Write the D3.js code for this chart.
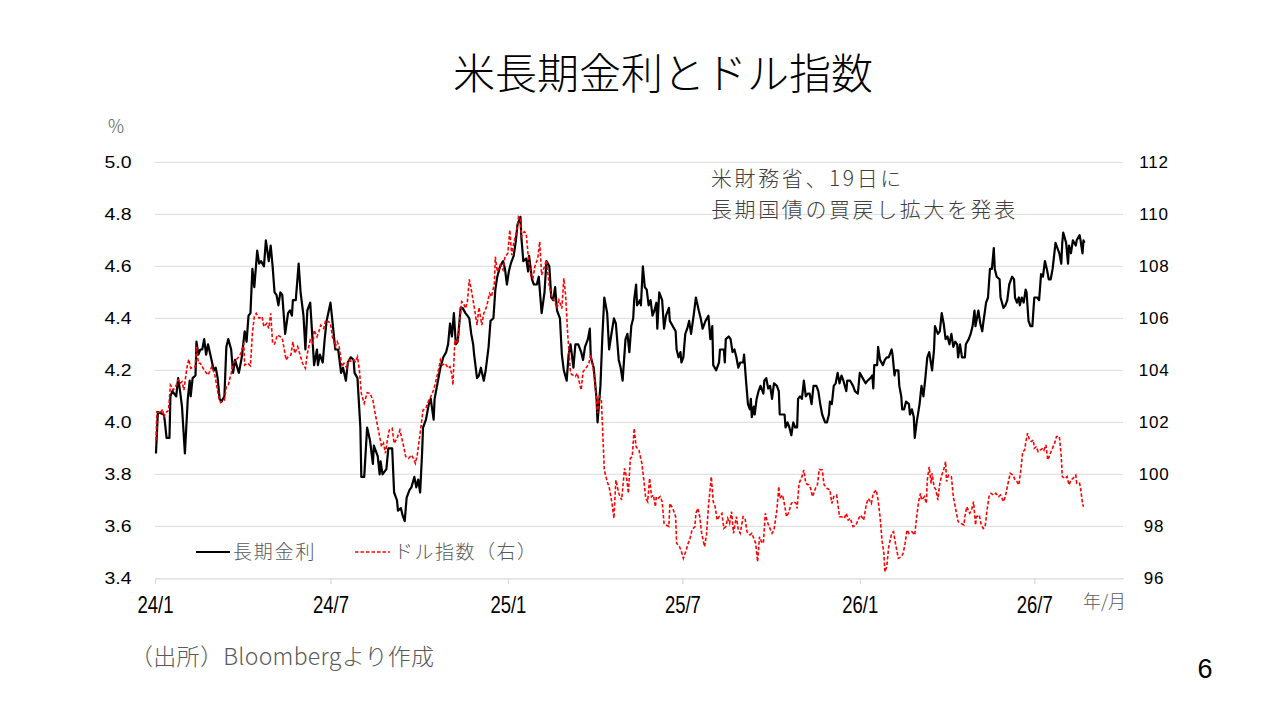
<!DOCTYPE html>
<html>
<head>
<meta charset="utf-8">
<script src="https://cdn.jsdelivr.net/npm/d3@7"></script>
<style>
  body { margin: 0; background: #fff; }
  text { font-family: "Noto Sans CJK JP", sans-serif; }
  .num { font-family: "Liberation Sans", Arial, sans-serif; }
</style>
</head>
<body>
<div id="chart"></div>
<script>
// 長期金利 (%), left axis
const yieldSeries = [
["24-01-02",3.88],["24-01-04",4.04],["24-01-10",4.03],["24-01-11",4.01],["24-01-13",3.94],["24-01-16",3.94],["24-01-17",4.10],["24-01-19",4.12],
["24-01-23",4.10],["24-01-25",4.17],["24-01-27",4.12],["24-01-29",4.06],["24-02-01",3.88],["24-02-04",4.09],["24-02-06",4.16],["24-02-07",4.10],
["24-02-09",4.17],["24-02-12",4.18],["24-02-13",4.31],["24-02-15",4.26],["24-02-17",4.28],["24-02-19",4.28],["24-02-21",4.32],["24-02-23",4.26],
["24-02-25",4.30],["24-02-28",4.25],["24-03-02",4.20],["24-03-04",4.21],["24-03-06",4.17],["24-03-08",4.09],["24-03-10",4.08],["24-03-13",4.10],
["24-03-15",4.29],["24-03-17",4.32],["24-03-20",4.28],["24-03-22",4.19],["24-03-24",4.24],["24-03-28",4.19],["24-03-29",4.21],["24-03-31",4.25],
["24-04-03",4.35],["24-04-05",4.31],["24-04-07",4.41],["24-04-09",4.42],["24-04-11",4.59],["24-04-13",4.52],["24-04-16",4.66],["24-04-18",4.61],
["24-04-20",4.62],["24-04-23",4.60],["24-04-25",4.70],["24-04-28",4.62],["24-04-30",4.68],["24-05-02",4.60],["24-05-04",4.50],["24-05-06",4.49],
["24-05-08",4.45],["24-05-10",4.50],["24-05-12",4.49],["24-05-15",4.34],["24-05-18",4.42],["24-05-20",4.43],["24-05-22",4.41],["24-05-23",4.47],
["24-05-26",4.47],["24-05-29",4.61],["24-05-31",4.50],["24-06-03",4.41],["24-06-05",4.28],["24-06-07",4.43],["24-06-10",4.46],["24-06-12",4.34],
["24-06-14",4.22],["24-06-17",4.28],["24-06-18",4.22],["24-06-20",4.26],["24-06-23",4.23],["24-06-25",4.32],["24-06-27",4.39],["24-07-01",4.46],
["24-07-03",4.39],["24-07-06",4.28],["24-07-09",4.28],["24-07-12",4.19],["24-07-14",4.21],["24-07-17",4.16],["24-07-19",4.23],["24-07-22",4.25],
["24-07-25",4.24],["24-07-26",4.19],["24-07-29",4.17],["24-08-01",3.98],["24-08-02",3.79],["24-08-05",3.79],["24-08-08",3.98],["24-08-11",3.93],
["24-08-14",3.84],["24-08-15",3.91],["24-08-19",3.87],["24-08-21",3.80],["24-08-22",3.85],["24-08-24",3.80],["24-08-28",3.82],["24-08-30",3.90],
["24-09-03",3.90],["24-09-05",3.73],["24-09-08",3.70],["24-09-09",3.66],["24-09-12",3.67],["24-09-14",3.64],["24-09-16",3.62],["24-09-18",3.71],
["24-09-21",3.74],["24-09-23",3.75],["24-09-26",3.79],["24-09-28",3.75],["24-09-30",3.78],["24-10-02",3.73],["24-10-04",3.88],["24-10-05",3.98],
["24-10-08",4.01],["24-10-11",4.07],["24-10-13",4.09],["24-10-16",4.01],["24-10-17",4.09],["24-10-20",4.15],["24-10-23",4.21],["24-10-26",4.25],
["24-10-29",4.27],["24-10-31",4.30],["24-11-02",4.38],["24-11-04",4.33],["24-11-06",4.42],["24-11-08",4.30],["24-11-10",4.31],["24-11-13",4.44],
["24-11-15",4.44],["24-11-18",4.42],["24-11-20",4.41],["24-11-22",4.40],["24-11-24",4.34],["24-11-26",4.30],["24-11-27",4.26],["24-11-30",4.17],
["24-12-02",4.18],["24-12-04",4.21],["24-12-07",4.16],["24-12-09",4.20],["24-12-12",4.29],["24-12-14",4.39],["24-12-17",4.40],["24-12-19",4.51],
["24-12-21",4.56],["24-12-24",4.60],["24-12-27",4.62],["24-12-29",4.59],["24-12-31",4.53],["25-01-02",4.58],["25-01-04",4.61],["25-01-07",4.64],
["25-01-09",4.69],["25-01-11",4.76],["25-01-14",4.79],["25-01-15",4.71],["25-01-17",4.62],["25-01-20",4.63],["25-01-22",4.58],["25-01-23",4.64],
["25-01-26",4.55],["25-01-28",4.53],["25-01-31",4.53],["25-02-02",4.56],["25-02-05",4.42],["25-02-08",4.50],["25-02-10",4.62],["25-02-13",4.60],
["25-02-15",4.48],["25-02-17",4.47],["25-02-19",4.52],["25-02-21",4.43],["25-02-24",4.40],["25-02-26",4.26],["25-02-28",4.20],["25-03-03",4.16],
["25-03-05",4.26],["25-03-07",4.30],["25-03-10",4.21],["25-03-12",4.30],["25-03-15",4.30],["25-03-18",4.27],["25-03-20",4.24],["25-03-22",4.29],
["25-03-25",4.32],["25-03-27",4.36],["25-03-28",4.25],["25-03-31",4.21],["25-04-03",4.09],["25-04-04",4.00],["25-04-07",4.14],["25-04-09",4.33],
["25-04-11",4.48],["25-04-14",4.42],["25-04-16",4.28],["25-04-18",4.33],["25-04-21",4.40],["25-04-23",4.38],["25-04-26",4.24],["25-04-28",4.21],
["25-04-30",4.16],["25-05-03",4.32],["25-05-05",4.34],["25-05-07",4.27],["25-05-09",4.37],["25-05-11",4.40],["25-05-12",4.47],["25-05-14",4.53],
["25-05-15",4.45],["25-05-18",4.47],["25-05-19",4.45],["25-05-21",4.60],["25-05-23",4.52],["25-05-25",4.51],["25-05-27",4.45],["25-05-29",4.47],
["25-05-31",4.41],["25-06-02",4.43],["25-06-04",4.46],["25-06-05",4.36],["25-06-07",4.50],["25-06-10",4.47],["25-06-12",4.36],["25-06-14",4.41],
["25-06-17",4.44],["25-06-18",4.39],["25-06-21",4.37],["25-06-24",4.35],["25-06-25",4.28],["25-06-27",4.25],["25-06-29",4.27],["25-06-30",4.23],
["25-07-02",4.25],["25-07-04",4.34],["25-07-06",4.36],["25-07-08",4.39],["25-07-10",4.34],["25-07-13",4.42],["25-07-15",4.48],["25-07-18",4.43],
["25-07-20",4.40],["25-07-22",4.36],["25-07-25",4.39],["25-07-28",4.41],["25-07-30",4.32],["25-08-01",4.37],["25-08-02",4.22],["25-08-05",4.20],
["25-08-08",4.23],["25-08-09",4.28],["25-08-13",4.28],["25-08-14",4.23],["25-08-15",4.32],["25-08-18",4.33],["25-08-20",4.32],["25-08-22",4.27],
["25-08-24",4.28],["25-08-26",4.25],["25-08-28",4.21],["25-08-30",4.23],["25-09-02",4.23],["25-09-03",4.26],["25-09-05",4.16],["25-09-07",4.07],
["25-09-09",4.05],["25-09-10",4.09],["25-09-11",4.02],["25-09-13",4.06],["25-09-14",4.03],["25-09-16",4.09],["25-09-18",4.12],["25-09-20",4.14],
["25-09-23",4.11],["25-09-24",4.16],["25-09-26",4.17],["25-09-28",4.13],["25-09-30",4.14],["25-10-02",4.09],["25-10-04",4.15],["25-10-07",4.14],
["25-10-09",4.12],["25-10-10",4.03],["25-10-13",4.03],["25-10-15",4.03],["25-10-16",3.98],["25-10-18",4.00],["25-10-20",3.98],["25-10-22",3.95],
["25-10-24",4.00],["25-10-26",3.98],["25-10-28",3.98],["25-10-29",4.09],["25-10-31",4.10],["25-11-02",4.09],["25-11-04",4.16],["25-11-06",4.10],
["25-11-08",4.11],["25-11-10",4.11],["25-11-12",4.07],["25-11-14",4.14],["25-11-17",4.14],["25-11-19",4.12],["25-11-21",4.07],["25-11-23",4.03],
["25-11-26",4.00],["25-11-28",4.00],["25-11-30",4.03],["25-12-01",4.08],["25-12-03",4.07],["25-12-05",4.14],["25-12-07",4.15],["25-12-09",4.19],
["25-12-11",4.15],["25-12-13",4.18],["25-12-15",4.16],["25-12-18",4.12],["25-12-19",4.16],["25-12-22",4.16],["25-12-25",4.14],["25-12-27",4.12],
["25-12-30",4.11],["26-01-01",4.19],["26-01-04",4.17],["26-01-07",4.15],["26-01-09",4.16],["26-01-12",4.17],["26-01-14",4.18],["26-01-15",4.13],
["26-01-16",4.22],["26-01-19",4.22],["26-01-20",4.29],["26-01-22",4.24],["26-01-25",4.22],["26-01-27",4.24],["26-01-29",4.25],["26-01-31",4.25],
["26-02-03",4.28],["26-02-04",4.26],["26-02-06",4.18],["26-02-07",4.20],["26-02-10",4.20],["26-02-11",4.14],["26-02-13",4.10],["26-02-14",4.05],
["26-02-16",4.05],["26-02-18",4.08],["26-02-21",4.07],["26-02-22",4.03],["26-02-24",4.05],["26-02-26",4.02],["26-02-27",3.94],["26-03-01",4.00],
["26-03-04",4.07],["26-03-06",4.14],["26-03-08",4.10],["26-03-10",4.17],["26-03-12",4.25],["26-03-14",4.27],["26-03-17",4.20],["26-03-19",4.28],
["26-03-20",4.37],["26-03-23",4.34],["26-03-25",4.35],["26-03-27",4.42],["26-03-29",4.38],["26-03-31",4.32],["26-04-02",4.33],["26-04-04",4.30],
["26-04-06",4.34],["26-04-08",4.29],["26-04-10",4.31],["26-04-12",4.30],["26-04-13",4.25],["26-04-15",4.30],["26-04-17",4.25],["26-04-20",4.25],
["26-04-21",4.30],["26-04-24",4.32],["26-04-26",4.34],["26-04-28",4.37],["26-04-30",4.43],["26-05-01",4.37],["26-05-04",4.43],["26-05-06",4.38],
["26-05-08",4.35],["26-05-09",4.38],["26-05-12",4.46],["26-05-14",4.48],["26-05-16",4.59],["26-05-18",4.59],["26-05-20",4.67],["26-05-21",4.59],
["26-05-23",4.56],["26-05-26",4.55],["26-05-27",4.48],["26-05-30",4.44],["26-06-01",4.45],["26-06-03",4.47],["26-06-05",4.53],["26-06-08",4.56],
["26-06-10",4.55],["26-06-11",4.48],["26-06-13",4.46],["26-06-15",4.48],["26-06-16",4.45],["26-06-18",4.48],["26-06-20",4.46],["26-06-22",4.51],
["26-06-23",4.50],["26-06-25",4.39],["26-06-27",4.37],["26-06-29",4.37],["26-07-01",4.48],["26-07-04",4.48],["26-07-06",4.47],["26-07-08",4.57],
["26-07-10",4.56],["26-07-12",4.62],["26-07-14",4.59],["26-07-16",4.55],["26-07-18",4.55],["26-07-20",4.59],["26-07-23",4.69],["26-07-25",4.67],
["26-07-27",4.65],["26-07-29",4.61],["26-07-30",4.69],["26-07-31",4.73],["26-08-03",4.69],["26-08-05",4.61],["26-08-06",4.68],["26-08-08",4.65],
["26-08-10",4.70],["26-08-13",4.68],["26-08-14",4.70],["26-08-17",4.72],["26-08-18",4.70],["26-08-20",4.65],["26-08-21",4.70],["26-08-22",4.69]
];

// ドル指数, right axis
const dollarSeries = [
["24-01-02",101.3],["24-01-03",102.4],["24-01-06",102.35],["24-01-09",102.5],["24-01-10",102.2],["24-01-13",102.4],["24-01-15",102.45],["24-01-17",103.43],
["24-01-20",103.24],["24-01-23",103.43],["24-01-25",103.63],["24-01-27",103.5],["24-01-29",103.56],["24-01-31",103.24],["24-02-03",104.08],["24-02-05",104.42],
["24-02-07",104.08],["24-02-10",104.14],["24-02-12",104.14],["24-02-13",104.91],["24-02-15",104.27],["24-02-17",104.27],["24-02-21",104.01],["24-02-25",103.82],
["24-02-29",104.14],["24-03-03",103.82],["24-03-07",102.99],["24-03-09",102.76],["24-03-13",102.86],["24-03-15",103.37],["24-03-17",103.43],["24-03-20",103.88],
["24-03-22",104.27],["24-03-25",104.4],["24-03-28",104.52],["24-03-30",104.65],["24-04-02",105.04],["24-04-03",104.2],["24-04-06",104.27],["24-04-09",104.17],
["24-04-11",105.42],["24-04-13",106.06],["24-04-15",106.19],["24-04-18",106.0],["24-04-21",106.06],["24-04-23",105.68],["24-04-26",105.81],["24-04-28",105.61],
["24-04-30",106.19],["24-05-02",105.04],["24-05-04",105.01],["24-05-07",105.36],["24-05-10",105.29],["24-05-12",105.23],["24-05-16",104.4],["24-05-18",104.52],
["24-05-21",104.59],["24-05-23",105.1],["24-05-25",104.65],["24-05-28",104.91],["24-05-30",104.65],["24-06-02",104.27],["24-06-05",104.08],["24-06-07",104.65],
["24-06-10",105.17],["24-06-13",105.04],["24-06-14",105.55],["24-06-17",105.29],["24-06-19",105.49],["24-06-21",105.74],["24-06-24",105.61],["24-06-26",105.93],
["24-06-29",105.87],["24-07-01",105.81],["24-07-03",105.29],["24-07-06",104.91],["24-07-08",105.1],["24-07-10",104.91],["24-07-13",104.14],["24-07-15",104.27],
["24-07-18",104.08],["24-07-20",104.4],["24-07-23",104.33],["24-07-25",104.4],["24-07-27",104.33],["24-07-29",104.52],["24-07-31",104.01],["24-08-02",103.11],
["24-08-05",102.73],["24-08-08",103.14],["24-08-11",103.11],["24-08-14",102.86],["24-08-16",102.41],["24-08-19",101.83],["24-08-21",101.45],["24-08-23",101.06],
["24-08-25",101.19],["24-08-27",100.81],["24-08-29",101.32],["24-08-31",101.7],["24-09-03",101.77],["24-09-05",101.19],["24-09-08",101.38],["24-09-11",101.7],
["24-09-15",101.06],["24-09-17",100.68],["24-09-20",100.61],["24-09-23",100.74],["24-09-25",100.61],["24-09-27",100.42],["24-09-29",100.74],["24-10-02",101.58],
["24-10-05",102.47],["24-10-08",102.54],["24-10-11",102.86],["24-10-13",102.99],["24-10-16",103.24],["24-10-19",103.69],["24-10-21",104.01],["24-10-23",104.4],
["24-10-25",104.2],["24-10-28",104.27],["24-10-31",104.08],["24-11-02",104.14],["24-11-04",103.82],["24-11-05",103.43],["24-11-07",105.17],["24-11-10",105.04],
["24-11-12",105.93],["24-11-14",106.64],["24-11-16",106.58],["24-11-18",106.38],["24-11-20",106.64],["24-11-22",107.5],["24-11-25",106.9],["24-11-27",106.45],
["24-11-30",105.74],["24-12-02",106.42],["24-12-05",105.74],["24-12-07",106.19],["24-12-10",106.45],["24-12-13",106.96],["24-12-15",106.83],["24-12-18",107.34],
["24-12-19",108.37],["24-12-21",107.79],["24-12-24",108.05],["24-12-27",107.86],["24-12-29",108.37],["25-01-01",108.5],["25-01-03",109.4],["25-01-05",108.43],
["25-01-07",108.88],["25-01-10",109.33],["25-01-12",109.91],["25-01-14",109.84],["25-01-15",109.14],["25-01-18",109.33],["25-01-20",109.27],["25-01-22",108.43],
["25-01-25",107.6],["25-01-27",107.54],["25-01-29",107.99],["25-02-01",108.31],["25-02-03",108.95],["25-02-05",107.67],["25-02-08",107.99],["25-02-10",108.24],
["25-02-13",107.22],["25-02-16",106.77],["25-02-18",106.7],["25-02-21",106.38],["25-02-23",106.7],["25-02-26",106.38],["25-02-28",107.54],["25-03-02",106.83],
["25-03-04",105.42],["25-03-07",103.88],["25-03-09",103.82],["25-03-12",103.76],["25-03-14",103.88],["25-03-16",103.56],["25-03-18",103.24],["25-03-20",103.95],
["25-03-23",104.08],["25-03-26",104.27],["25-03-28",104.59],["25-03-30",104.2],["25-04-01",103.63],["25-04-04",102.35],["25-04-06",102.99],["25-04-08",102.86],
["25-04-11",100.17],["25-04-14",99.72],["25-04-16",99.52],["25-04-19",98.88],["25-04-21",98.31],["25-04-23",99.78],["25-04-26",99.27],["25-04-29",99.01],
["25-05-02",100.23],["25-05-04",99.91],["25-05-06",99.27],["25-05-08",100.61],["25-05-10",100.68],["25-05-12",101.77],["25-05-14",101.06],["25-05-17",100.93],
["25-05-18",100.74],["25-05-20",100.42],["25-05-22",99.78],["25-05-24",99.08],["25-05-26",98.95],["25-05-28",99.85],["25-05-30",99.14],["25-06-01",99.2],
["25-06-03",98.75],["25-06-04",99.14],["25-06-06",99.08],["25-06-08",99.14],["25-06-10",98.95],["25-06-12",98.11],["25-06-14",98.05],["25-06-17",97.99],
["25-06-18",98.88],["25-06-21",98.69],["25-06-24",98.37],["25-06-25",97.35],["25-06-28",97.22],["25-06-30",97.03],["25-07-02",96.77],["25-07-05",97.09],
["25-07-07",97.35],["25-07-09",97.54],["25-07-11",97.86],["25-07-14",97.99],["25-07-15",98.5],["25-07-17",98.69],["25-07-19",98.37],["25-07-21",97.73],
["25-07-24",97.22],["25-07-26",97.67],["25-07-28",98.75],["25-07-31",99.91],["25-08-02",98.95],["25-08-04",98.75],["25-08-06",98.24],["25-08-08",98.37],
["25-08-11",98.5],["25-08-13",97.92],["25-08-15",97.99],["25-08-17",98.31],["25-08-19",98.11],["25-08-21",98.56],["25-08-23",97.73],["25-08-26",98.37],
["25-08-28",97.86],["25-08-30",97.73],["25-09-02",98.37],["25-09-04",98.31],["25-09-06",97.79],["25-09-09",97.67],["25-09-11",97.73],["25-09-13",97.54],
["25-09-15",97.35],["25-09-17",96.64],["25-09-19",97.6],["25-09-21",97.41],["25-09-23",97.35],["25-09-25",98.5],["25-09-27",98.18],["25-09-29",97.99],
["25-10-02",97.73],["25-10-04",97.86],["25-10-07",98.63],["25-10-09",99.53],["25-10-10",99.08],["25-10-13",99.2],["25-10-15",98.82],["25-10-17",98.37],
["25-10-19",98.5],["25-10-22",98.88],["25-10-24",98.95],["25-10-27",98.88],["25-10-28",98.69],["25-10-30",99.65],["25-11-02",99.91],["25-11-04",100.17],
["25-11-06",99.65],["25-11-09",99.59],["25-11-11",99.46],["25-11-13",99.14],["25-11-16",99.46],["25-11-18",99.59],["25-11-20",100.19],["25-11-23",100.17],
["25-11-25",99.59],["25-11-28",99.46],["25-12-01",99.4],["25-12-03",98.88],["25-12-05",99.14],["25-12-08",99.2],["25-12-11",98.37],["25-12-13",98.37],
["25-12-16",98.31],["25-12-18",98.5],["25-12-20",98.24],["25-12-22",98.31],["25-12-25",97.99],["25-12-28",98.05],["25-12-31",98.31],["26-01-02",98.43],
["26-01-05",98.24],["26-01-08",98.88],["26-01-10",99.07],["26-01-13",98.88],["26-01-15",99.27],["26-01-18",99.4],["26-01-20",99.01],["26-01-22",98.37],
["26-01-24",97.47],["26-01-26",96.96],["26-01-27",96.25],["26-01-29",96.45],["26-01-31",97.22],["26-02-02",97.54],["26-02-03",97.73],["26-02-05",97.79],
["26-02-07",97.34],["26-02-09",96.96],["26-02-10",96.77],["26-02-13",96.83],["26-02-15",96.96],["26-02-17",97.34],["26-02-19",97.86],["26-02-21",97.73],
["26-02-24",97.79],["26-02-27",97.67],["26-03-01",98.37],["26-03-03",98.95],["26-03-05",99.27],["26-03-06",99.01],["26-03-09",99.14],["26-03-11",98.88],
["26-03-12",99.78],["26-03-14",100.29],["26-03-16",99.65],["26-03-17",100.04],["26-03-19",99.52],["26-03-21",99.4],["26-03-23",99.01],["26-03-25",99.65],
["26-03-27",99.97],["26-03-29",100.17],["26-03-31",100.49],["26-04-01",99.72],["26-04-03",99.97],["26-04-06",99.91],["26-04-08",99.14],["26-04-11",98.56],
["26-04-13",98.18],["26-04-16",98.11],["26-04-19",98.05],["26-04-20",98.37],["26-04-22",98.75],["26-04-25",98.5],["26-04-27",98.63],["26-04-29",98.95],
["26-05-01",98.05],["26-05-02",98.37],["26-05-05",98.43],["26-05-07",98.05],["26-05-09",97.92],["26-05-11",97.99],["26-05-13",98.63],["26-05-15",99.14],
["26-05-17",99.27],["26-05-20",99.2],["26-05-22",99.27],["26-05-25",99.14],["26-05-27",99.2],["26-05-30",98.95],["26-06-01",99.14],["26-06-03",99.52],
["26-06-06",100.04],["26-06-09",99.97],["26-06-11",99.78],["26-06-13",99.72],["26-06-15",99.59],["26-06-17",100.17],["26-06-19",100.87],["26-06-21",100.93],
["26-06-22",101.19],["26-06-24",101.58],["26-06-26",101.32],["26-06-28",101.26],["26-06-30",101.32],["26-07-01",101.0],["26-07-03",101.06],["26-07-05",100.87],
["26-07-07",100.93],["26-07-10",101.0],["26-07-11",100.93],["26-07-13",101.13],["26-07-15",100.55],["26-07-17",100.74],["26-07-19",100.93],["26-07-22",101.19],
["26-07-24",101.45],["26-07-26",101.47],["26-07-27",101.45],["26-07-29",100.68],["26-07-30",99.91],["26-08-02",99.84],["26-08-04",99.91],["26-08-06",99.59],
["26-08-08",99.78],["26-08-10",99.84],["26-08-13",99.97],["26-08-14",99.65],["26-08-17",99.65],["26-08-18",99.46],["26-08-20",98.88],["26-08-21",98.75]
];

// axis ticks
const xTickDates = ["24-01-01","24-07-01","25-01-01","25-07-01","26-01-01","26-07-01"];
const xTickLabels = ["24/1","24/7","25/1","25/7","26/1","26/7"];
const leftTicks = [3.4, 3.6, 3.8, 4.0, 4.2, 4.4, 4.6, 4.8, 5.0];
const rightTicks = [96, 98, 100, 102, 104, 106, 108, 110, 112];

const W = 1280, H = 723;
const plot = { left: 155, right: 1123, top: 162.3, bottom: 578.3 };
const parse = d3.timeParse("%y-%m-%d");

const svg = d3.select("#chart").append("svg")
  .attr("width", W).attr("height", H)
  .style("display", "block");

svg.append("rect").attr("width", W).attr("height", H).attr("fill", "#fff");

// scales
var x = d3.scaleTime().domain([parse("24-01-01"), parse("26-10-01")]).range([plot.left, plot.right]);
var yL = d3.scaleLinear().domain([3.4, 5.0]).range([plot.bottom, plot.top]);
var yR = d3.scaleLinear().domain([96, 112]).range([plot.bottom, plot.top]);

// gridlines
svg.append("g").selectAll("line").data(leftTicks.slice(1)).enter().append("line")
  .attr("x1", plot.left).attr("x2", plot.right)
  .attr("y1", d => yL(d)).attr("y2", d => yL(d))
  .attr("stroke", "#d9d9d9").attr("stroke-width", 1);

// bottom axis
var xAxis = d3.axisBottom(x)
  .tickValues(xTickDates.map(parse))
  .tickSize(6).tickSizeOuter(0)
  .tickFormat((d, i) => xTickLabels[i]);
var gx = svg.append("g").attr("transform", "translate(0," + plot.bottom + ")").call(xAxis);
gx.select(".domain").attr("stroke", "#d9d9d9").attr("stroke-width", 1.2);
gx.selectAll(".tick line").attr("stroke", "#d9d9d9").attr("stroke-width", 1.2);
// labels are tall and narrow in the original
gx.selectAll(".tick text").attr("class", "num").attr("y", 35).attr("dy", 0)
  .attr("font-size", 24).attr("fill", "#000")
  .attr("textLength", 36).attr("lengthAdjust", "spacingAndGlyphs");

// left axis
var gl = svg.append("g").attr("transform", "translate(" + (plot.left - 37) + ",0)")
  .call(d3.axisLeft(yL).tickValues(leftTicks).tickSize(0).tickFormat(d3.format(".1f")));
gl.select(".domain").remove();
gl.selectAll("text").attr("class", "num").attr("font-size", 17).attr("fill", "#000")
  .attr("x", 0).attr("text-anchor", "middle")
  .attr("textLength", 27).attr("lengthAdjust", "spacingAndGlyphs");

// right axis
var gr = svg.append("g").attr("transform", "translate(1154,0)")
  .call(d3.axisRight(yR).tickValues(rightTicks).tickSize(0));
gr.select(".domain").remove();
gr.selectAll("text").attr("class", "num").attr("font-size", 17).attr("fill", "#000")
  .attr("x", 0).attr("text-anchor", "middle").style("letter-spacing", "0.8px");

// series
var lineL = d3.line().x(d => x(parse(d[0]))).y(d => yL(d[1]));
var lineR = d3.line().x(d => x(parse(d[0]))).y(d => yR(d[1]));

svg.append("path").datum(yieldSeries).attr("d", lineL)
  .attr("fill", "none").attr("stroke", "#000").attr("stroke-width", 2.2)
  .attr("stroke-linejoin", "round");
svg.append("path").datum(dollarSeries).attr("d", lineR)
  .attr("fill", "none").attr("stroke", "#ff0000").attr("stroke-width", 1.6)
  .attr("stroke-dasharray", "3.5,2");

// title and texts
svg.append("text").attr("x", 663).attr("y", 89).attr("text-anchor", "middle")
  .attr("font-size", 42).attr("font-weight", 300).attr("fill", "#000")
  .text("米長期金利とドル指数");

svg.append("text").attr("x", 107).attr("y", 133).attr("font-size", 18).attr("font-weight", 300)
  .attr("fill", "#595959").text("％");

svg.append("text").attr("x", 1083).attr("y", 608).attr("font-size", 18).attr("font-weight", 300)
  .attr("fill", "#595959").text("年/月");

// annotation, two lines
svg.append("text").attr("x", 711).attr("y", 186).attr("font-size", 21).attr("font-weight", 300)
  .attr("fill", "#404040").style("letter-spacing", "2.6px").text("米財務省、19日に");
svg.append("text").attr("x", 711).attr("y", 217).attr("font-size", 21).attr("font-weight", 300)
  .attr("fill", "#404040").style("letter-spacing", "2.6px").text("長期国債の買戻し拡大を発表");

// legend
var legend = svg.append("g");
legend.append("line").attr("x1", 196).attr("x2", 230).attr("y1", 552).attr("y2", 552)
  .attr("stroke", "#000").attr("stroke-width", 2.2);
legend.append("text").attr("x", 233).attr("y", 559).attr("font-size", 19).attr("font-weight", 300)
  .attr("fill", "#595959").style("letter-spacing", "1.8px").text("長期金利");
legend.append("line").attr("x1", 355).attr("x2", 390).attr("y1", 552).attr("y2", 552)
  .attr("stroke", "#ff0000").attr("stroke-width", 1.6).attr("stroke-dasharray", "3.5,2");
legend.append("text").attr("x", 394).attr("y", 559).attr("font-size", 19).attr("font-weight", 300)
  .attr("fill", "#595959").style("letter-spacing", "1.5px").text("ドル指数（右）");

svg.append("text").attr("x", 130).attr("y", 665).attr("font-size", 23).attr("font-weight", 300)
  .attr("fill", "#595959").style("letter-spacing", "0.3px").text("（出所）Bloombergより作成");

svg.append("text").attr("class", "num").attr("x", 1205).attr("y", 678).attr("text-anchor", "middle")
  .attr("font-size", 27).attr("fill", "#000").text("6");
</script>
</body>
</html>
